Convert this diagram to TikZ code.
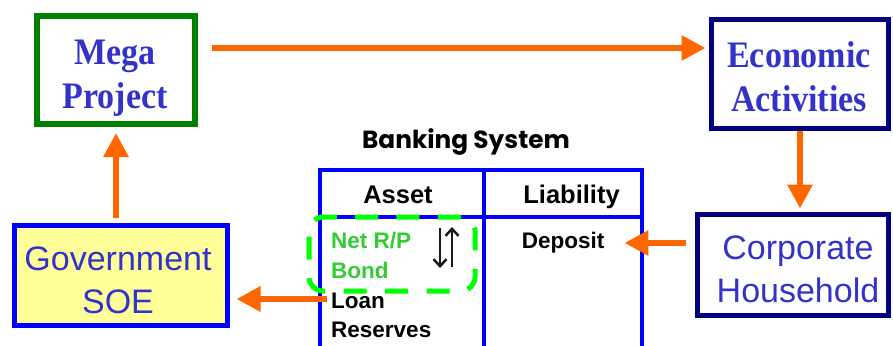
\documentclass[tikz,border=0pt]{standalone}
\usepackage{fontspec}
\setmainfont{Liberation Sans}
\newfontfamily\boxserif{Liberation Serif}
\newfontfamily\titlefont{Poppins}
\usetikzlibrary{arrows.meta}

\definecolor{flowor}{HTML}{FF6600}
\definecolor{txtblue}{HTML}{3333CC}
\definecolor{navyb}{HTML}{000080}
\definecolor{megagreen}{HTML}{008000}
\definecolor{tblblue}{HTML}{0000FF}
\definecolor{govfill}{HTML}{FFFF99}
\definecolor{bondgreen}{HTML}{33CC33}
\definecolor{dashgreen}{HTML}{00FF00}

% slightly tall serif lettering for the two top boxes
\newcommand{\tallword}[1]{\scalebox{1}[1.1]{#1}}

\begin{document}
\begin{tikzpicture}[x=1pt,y=-1pt,
  box/.style={rectangle, inner sep=0pt, outer sep=0pt},
  serifbox/.style={font=\boxserif\bfseries\fontsize{34}{44}\selectfont, text=txtblue, align=center, inner sep=0pt},
  sansbox/.style={font=\fontsize{34}{43}\selectfont, text=txtblue, align=center, inner sep=0pt},
  cell/.style={font=\bfseries\fontsize{22.5}{27}\selectfont, inner sep=0pt},
  headcell/.style={font=\bfseries\fontsize{25.5}{30}\selectfont, inner sep=0pt},
  flow/.style={draw=flowor, line width=6.5pt, -{Triangle[length=24pt,width=24pt]}},
  tbl/.style={draw=tblblue, line width=4pt},
  swap/.style={draw=black!90, line width=2.5pt, -{Straight Barb[length=7pt,width=13pt,line width=2.5pt]}},
  ]
\useasboundingbox (0,0) rectangle (893,345);

% boxes
\node[box, draw=megagreen, line width=6pt, minimum width=158pt, minimum height=108pt] (mega) at (116,70) {};
\node[box, draw=navyb, line width=5pt, minimum width=177pt, minimum height=109pt] (econ) at (800,74) {};
\node[box, draw=tblblue, fill=govfill, line width=5pt, minimum width=213pt, minimum height=100pt] (gov) at (121,275.5) {};
\node[box, draw=navyb, line width=5pt, minimum width=191pt, minimum height=101pt] (corp) at (793,265) {};

% box captions (base anchor sits on the last line)
\node[serifbox, anchor=base] (megaT) at (115,108) {\tallword{Mega}\\\tallword{Project}};
\node[serifbox, anchor=base] (econT) at (799,111) {\tallword{Economic}\\\tallword{Activities}};
\node[sansbox, anchor=base] (govT) at (118,313) {Government\\SOE};
\node[sansbox, anchor=base] (corpT) at (798,302) {Corporate\\Household};

% banking system balance sheet
\node[font=\titlefont\bfseries\fontsize{24.8}{28}\selectfont, inner sep=0pt, anchor=base] (bank) at (466,148) {Banking System};
\draw[tbl] (320,352) -- (320,170) -- (642,170) -- (642,352);
\draw[tbl] (320,217) -- (642,217);
\draw[tbl] (484,170) -- (484,352);

\node[headcell, anchor=base] (asset) at (398,203) {Asset};
\node[headcell, anchor=base] (liab) at (571.5,203) {Liability};
\node[cell, anchor=base west, text=bondgreen] (netrp) at (331,248) {Net R/P};
\node[cell, anchor=base west, text=bondgreen] (bond) at (331,278) {Bond};
\node[cell, anchor=base west] (loan) at (331,308) {Loan};
\node[cell, anchor=base west] (res) at (331,337) {Reserves};
\node[cell, anchor=base] (dep) at (563,248) {Deposit};

% repo / bond group
\draw[draw=dashgreen, line width=5pt, rounded corners=14pt, dash pattern=on 23pt off 18.45pt]
  (341,217) -- (475,217) -- (475,291) -- (309,291) -- (309,217) -- cycle;

% swap arrows
\coordinate (dnA) at (440,228);
\coordinate (dnB) at (440,268);
\coordinate (upA) at (452,267);
\coordinate (upB) at (452,227);
\draw[swap] (dnA) -- (dnB);
\draw[swap] (upA) -- (upB);

% flows
\coordinate (topS) at (212,48);
\draw[flow, shorten >=6pt] (topS) -- (econ.west |- topS);
\draw[flow, shorten <=2pt, shorten >=6pt] (econ.south) -- (econ.south |- corp.north);
\coordinate (depS) at (686,243);
\draw[flow, shorten >=20pt] (depS) -- (dep.east |- depS);
\coordinate (loanS) at (327,299);
\draw[flow, shorten >=9pt] (loanS) -- (gov.east |- loanS);
\draw[flow, shorten <=8pt, shorten >=9pt] (mega.south |- gov.north) -- (mega.south);
\end{tikzpicture}
\end{document}
